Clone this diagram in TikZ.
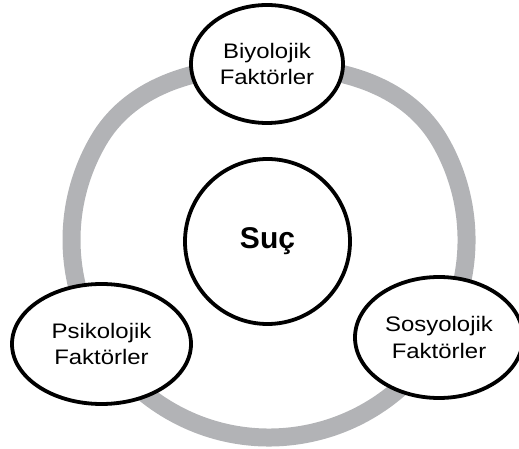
\documentclass[tikz,border=0pt]{standalone}
\usepackage{fontspec}
\setmainfont{Liberation Sans}
\newfontfamily\widefont[FakeStretch=1.14]{Liberation Sans}
\usetikzlibrary{shapes.geometric}
\definecolor{ringgray}{RGB}{178,179,182}
\begin{document}
\begin{tikzpicture}[x=1pt,y=1pt,
  factor/.style={ellipse, draw=black, line width=3.8pt, fill=white, inner sep=0pt,
    align=center, font=\widefont\fontsize{21}{26.7}\selectfont},
  core/.style={circle, draw=black, line width=3.8pt, fill=white, inner sep=0pt,
    minimum size=165pt, font=\bfseries\fontsize{30}{36}\selectfont},
  ring/.style={draw=ringgray, line width=18pt}]
\useasboundingbox (0,0) rectangle (519,449);
\coordinate (top) at (269,383);
\coordinate (ringL) at (98,307.75);
\coordinate (ringR) at (440,307.75);
\draw[ring] (top) .. controls (189,383) and (128,359.7) .. (ringL)
  arc[start angle=150, end angle=390, radius=197.5]
  .. controls (410,359.7) and (349,383) .. (top) -- cycle;
\node[factor, minimum width=152pt, minimum height=118pt] (bio) at (267,385) {Biyolojik\\Faktörler};
\node[factor, minimum width=179pt, minimum height=120pt] (psi) at (101.5,105) {Psikolojik\\Faktörler};
\node[factor, minimum width=168pt, minimum height=121pt] (sos) at (439,111.5) {Sosyolojik\\Faktörler};
\node[core] (suc) at (267.5,207.5) {Suç};
\end{tikzpicture}
\end{document}
